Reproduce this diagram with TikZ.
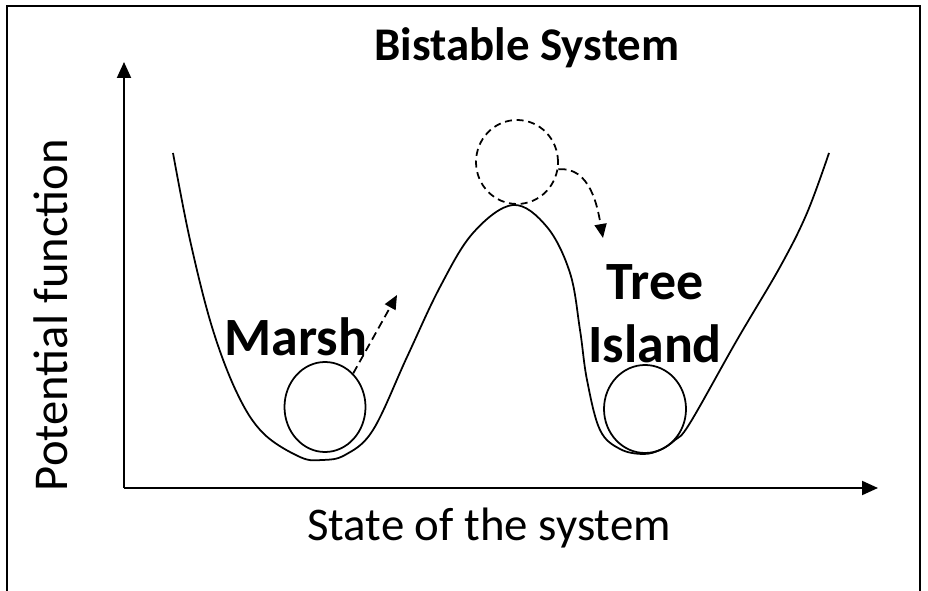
\documentclass[tikz,border=0pt]{standalone}
\usepackage{fontspec}
\setmainfont{Carlito}
\usetikzlibrary{arrows.meta}
\usetikzlibrary{shapes.geometric}
\tikzset{>={Triangle[width=4.2mm,length=4.8mm]}}
\tikzset{
  axis/.style={->, line width=1.7pt},
  ball/.style={draw, ellipse, line width=1.5pt, inner sep=0pt},
  push/.style={->, line width=1.5pt, dash pattern=on 7pt off 4pt,
    >={Triangle[width=3.6mm,length=4.2mm]}},
  bigtext/.style={font=\fontsize{40}{48}\selectfont, inner sep=0pt},
  boldtext/.style={font=\fontsize{46}{54}\selectfont\bfseries, inner sep=0pt}
}

\begin{document}
\begin{tikzpicture}[x=0.03cm,y=0.03cm]
  \useasboundingbox (0,0) rectangle (928,590);
  % Frame
  \draw[line width=1.7pt] (7,-10) rectangle (920,584);
  % Axes
  \coordinate (origin) at (124,102);
  \coordinate (ytip) at (124,528);
  \coordinate (xtip) at (878,102);
  \draw[axis] (origin) -- (ytip);
  \draw[axis] (origin) -- (xtip);
  % Title and axis labels
  \node[bigtext, font=\fontsize{40}{48}\selectfont\bfseries] (title) at (527,542) {Bistable System};
  \node[bigtext] (xlabel) at (489,62) {State of the system};
  \node[bigtext, font=\fontsize{41.5}{48}\selectfont, rotate=90] (ylabel) at (51,275) {Potential function};
  % Potential with two wells
  \draw[line width=1.5pt] plot[smooth, tension=0.6] coordinates {
    (173,437) (190,350) (212,263) (237,197) (263,157) (300,133) (322,130)
    (345,135) (373,160) (407,233) (440,303) (473,357) (513,385) (547,363)
    (570,317) (580,260) (587,210) (600,160) (620,141) (643,136) (660,140)
    (675,150) (690,167) (737,250) (780,323) (807,377) (829,437)};
  % Balls in the wells and on the hilltop
  \node[ball, minimum width=2.43cm, minimum height=2.7cm] (marshball) at (325,183) {};
  \node[ball, minimum width=2.46cm, minimum height=2.64cm] (islandball) at (645,181) {};
  \node[ball, dashed, dash pattern=on 6pt off 4pt, minimum width=2.46cm, minimum height=2.52cm] (topball) at (517,428) {};
  % State names
  \node[boldtext] (marsh) at (296,253) {Marsh};
  \node[boldtext, align=center] (island) at (655,276) {Tree\\Island};
  % Pushes out of the wells
  \coordinate (marshkick) at (397,295);
  \draw[push] (marshball.50) -- (marshkick);
  \coordinate (landing) at (603,352);
  \draw[push] (topball.-10) to[out=5,in=100] (landing);
\end{tikzpicture}
\end{document}
